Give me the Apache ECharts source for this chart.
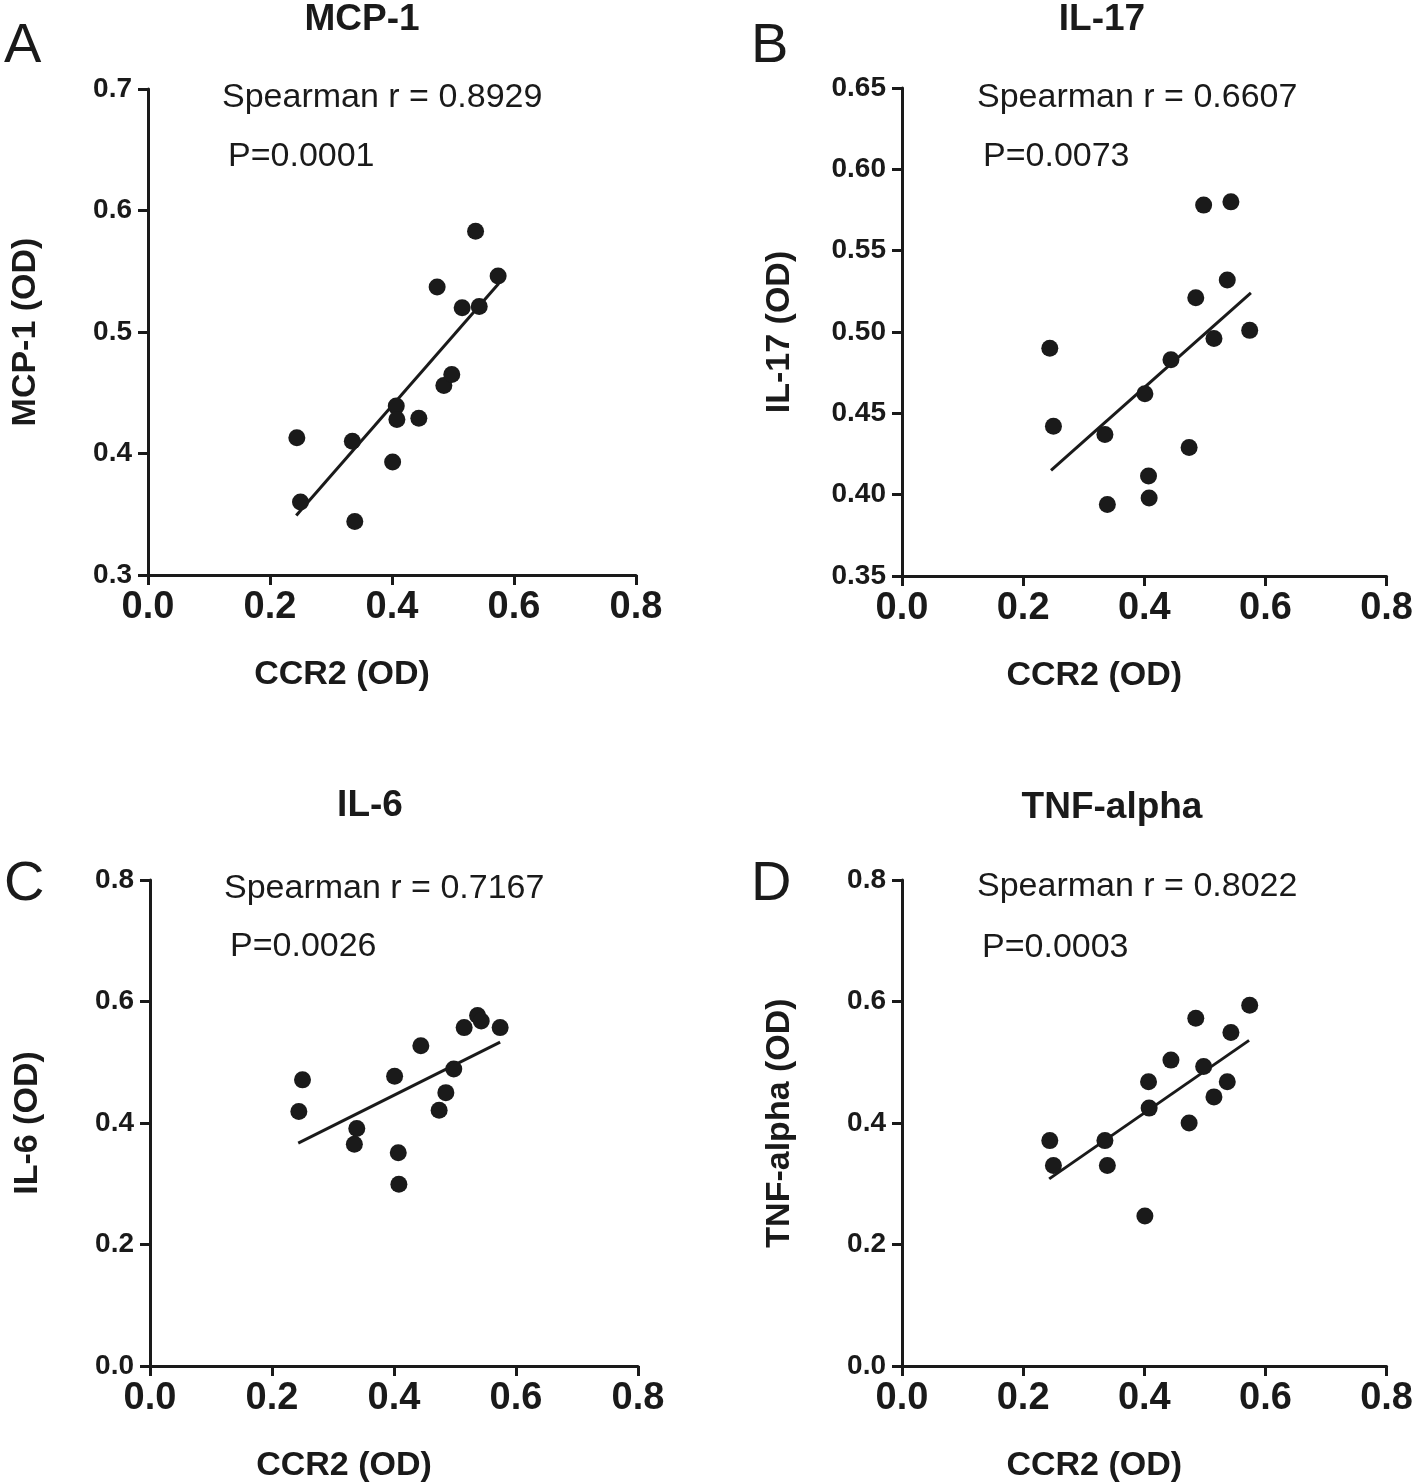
<!DOCTYPE html>
<html>
<head>
<meta charset="utf-8">
<script src="https://cdn.jsdelivr.net/npm/echarts@6/dist/echarts.min.js"></script>
<style>
html,body{margin:0;padding:0;background:#fff;}
#c{width:1416px;height:1484px;}
</style>
</head>
<body>
<div id="c"></div>
<script>
// CCR2 (OD) values (x, shared by all panels)
const ccr2 = [0.244, 0.250, 0.335, 0.339, 0.401, 0.407, 0.408, 0.444, 0.474, 0.485, 0.498, 0.515, 0.537, 0.543, 0.574];
// Panel y values (OD), same order as ccr2
const mcp1 = [0.413, 0.360, 0.410, 0.344, 0.393, 0.439, 0.428, 0.429, 0.537, 0.456, 0.465, 0.520, 0.583, 0.521, 0.546];
const il17 = [0.490, 0.442, 0.437, 0.394, 0.462, 0.4115, 0.398, 0.483, 0.429, 0.521, 0.578, 0.496, 0.532, 0.580, 0.501];
const il6  = [0.419, 0.471, 0.365, 0.391, 0.477, 0.351, 0.299, 0.527, 0.421, 0.450, 0.489, 0.557, 0.577, 0.568, 0.557];
const tnf  = [0.371, 0.330, 0.371, 0.330, 0.247, 0.468, 0.4245, 0.5035, 0.400, 0.5725, 0.493, 0.443, 0.468, 0.549, 0.594];
// Regression line end points
const fitMcp1 = [[0.243, 0.349], [0.575, 0.540]];
const fitIl17 = [[0.246, 0.415], [0.576, 0.524]];
const fitIl6  = [[0.243, 0.367], [0.574, 0.533]];
const fitTnf  = [[0.243, 0.308], [0.573, 0.536]];
// Panel texts
const titles = ['MCP-1', 'IL-17', 'IL-6', 'TNF-alpha'];
const letters = ['A', 'B', 'C', 'D'];
const yNames = ['MCP-1 (OD)', 'IL-17 (OD)', 'IL-6 (OD)', 'TNF-alpha (OD)'];
const xName = 'CCR2 (OD)';
const rTexts = ['Spearman r = 0.8929', 'Spearman r = 0.6607', 'Spearman r = 0.7167', 'Spearman r = 0.8022'];
const pTexts = ['P=0.0001', 'P=0.0073', 'P=0.0026', 'P=0.0003'];
// Axis ranges / ticks
const xTicks = {min: 0, max: 0.8, interval: 0.2, dec: 1};
const yTicks = [
  {min: 0.3, max: 0.7, interval: 0.1, dec: 1},
  {min: 0.35, max: 0.65, interval: 0.05, dec: 2},
  {min: 0, max: 0.8, interval: 0.2, dec: 1},
  {min: 0, max: 0.8, interval: 0.2, dec: 1}
];

const ys = [mcp1, il17, il6, tnf];
const fits = [fitMcp1, fitIl17, fitIl6, fitTnf];

const INK = '#1a1a1a';
const FONT = '"Liberation Sans", Arial, Helvetica, sans-serif';

const grids = [
  {left: 148, top: 89, width: 488, height: 486},
  {left: 902, top: 88, width: 488, height: 488},
  {left: 150, top: 880, width: 488, height: 487},
  {left: 902, top: 880, width: 488, height: 488}
];

const xAxes = grids.map((g, i) => ({
  type: 'value', gridIndex: i, min: xTicks.min, max: xTicks.max, interval: xTicks.interval,
  name: xName, nameLocation: 'middle', nameGap: 83,
  nameTextStyle: {fontSize: 34, fontWeight: 'bold', color: INK, fontFamily: FONT, padding: [0, 100, 0, 0]},
  axisLine: {show: true, onZero: false, lineStyle: {color: INK, width: 3}},
  axisTick: {show: true, length: 10, lineStyle: {color: INK, width: 3}},
  axisLabel: {fontSize: 38, fontWeight: 'bold', color: INK, fontFamily: FONT, margin: 14,
    formatter: v => v.toFixed(xTicks.dec)},
  splitLine: {show: false}
}));

const yAxes = grids.map((g, i) => ({
  type: 'value', gridIndex: i, min: yTicks[i].min, max: yTicks[i].max, interval: yTicks[i].interval,
  name: yNames[i], nameLocation: 'middle', nameGap: 105,
  nameTextStyle: {fontSize: 34, fontWeight: 'bold', color: INK, fontFamily: FONT},
  axisLine: {show: true, onZero: false, lineStyle: {color: INK, width: 3}},
  axisTick: {show: true, length: 10, lineStyle: {color: INK, width: 3}},
  axisLabel: {fontSize: 28, fontWeight: 'bold', color: INK, fontFamily: FONT, margin: 16,
    formatter: v => v.toFixed(yTicks[i].dec)},
  splitLine: {show: false}
}));

const series = [];
ys.forEach((arr, i) => {
  series.push({
    type: 'scatter', xAxisIndex: i, yAxisIndex: i, symbol: 'circle', symbolSize: 17,
    itemStyle: {color: INK, opacity: 1}, data: ccr2.map((x, k) => [x, arr[k]]), z: 3
  });
  series.push({
    type: 'line', xAxisIndex: i, yAxisIndex: i, showSymbol: false, symbol: 'none',
    lineStyle: {color: INK, width: 3}, data: fits[i], z: 2
  });
});

// texts placement
const titlePos = [[362, 20], [1102, 20], [370, 806], [1112, 808]];
const letterPos = [[4, 47], [751, 47], [4, 885], [751, 885]];
const rPos = [[222, 98], [977, 98], [224, 889], [977, 887]];
const pPos = [[228, 157], [983, 157], [230, 947], [982, 948]];

const graphic = [];
function txt(text, x, y, font, align) {
  graphic.push({type: 'text', x: x, y: y, z: 10,
    style: {text: text, font: font, fill: INK, textAlign: align, textVerticalAlign: 'middle', align: align, verticalAlign: 'middle'}});
}
for (let i = 0; i < 4; i++) {
  txt(titles[i], titlePos[i][0], titlePos[i][1], 'bold 37px ' + FONT, 'center');
  txt(letters[i], letterPos[i][0], letterPos[i][1], '56px ' + FONT, 'left');
  txt(rTexts[i], rPos[i][0], rPos[i][1], '34px ' + FONT, 'left');
  txt(pTexts[i], pPos[i][0], pPos[i][1], '34px ' + FONT, 'left');
}

const chart = echarts.init(document.getElementById('c'), null, {renderer: 'canvas'});
chart.setOption({
  backgroundColor: '#ffffff',
  animation: false,
  grid: grids,
  xAxis: xAxes,
  yAxis: yAxes,
  series: series,
  graphic: graphic
});
</script>
</body>
</html>
